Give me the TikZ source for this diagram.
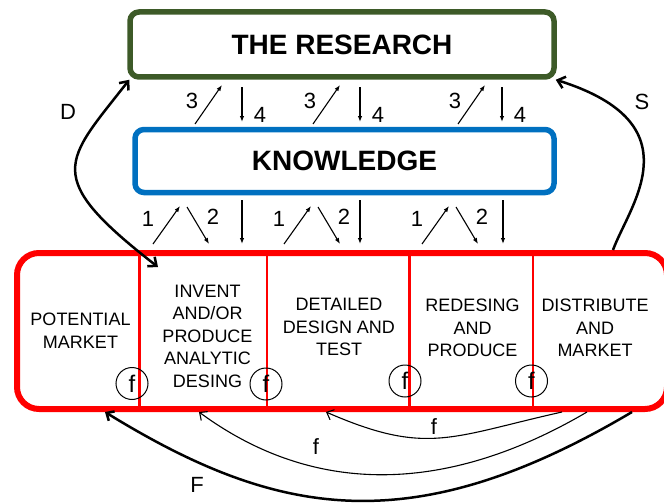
\documentclass[tikz,border=0pt]{standalone}
\usepackage{fontspec}
\setmainfont{Liberation Sans}
\usetikzlibrary{arrows.meta}

\definecolor{researchgreen}{RGB}{61,90,40}
\definecolor{knowblue}{RGB}{0,112,192}

\begin{document}
\begin{tikzpicture}[x=1pt, y=-1pt,
  every node/.style={font=\fontsize{18}{22.5}\selectfont},
  mainbox/.style={draw, line width=5.5pt, rounded corners=9pt, font=\bfseries\fontsize{28}{30}\selectfont},
  cell/.style={align=center, inner sep=0pt},
  num/.style={font=\fontsize{22}{22}\selectfont, inner sep=0pt},
  fmark/.style={draw, circle, line width=1pt, minimum size=32pt, inner sep=0pt, font=\fontsize{24}{24}\selectfont},
  small/.style={line width=1.1pt, -{Latex[length=6pt,width=4.5pt]}},
  bigarrow/.style={line width=2.5pt, -{Straight Barb[length=7pt,width=12pt]}},
  feed/.style={line width=1.1pt, -{Straight Barb[length=6pt,width=11pt]}},
  divider/.style={red, line width=2.5pt}]
  \useasboundingbox (0,0) rectangle (664,503);

  % boxes
  \node[mainbox, draw=researchgreen, minimum width=424pt, minimum height=65pt] (research) at (342,44.5) {THE RESEARCH};
  \node[mainbox, draw=knowblue, minimum width=419pt, minimum height=63pt] (knowledge) at (344.5,161) {KNOWLEDGE};
  \node[draw=red, line width=6pt, rounded corners=22pt, minimum width=650pt, minimum height=156pt] (chain) at (342,331) {};
  \foreach \x in {139.5,267,409.5,533}
    \draw[divider] (\x,0 |- chain.north) -- (\x,0 |- chain.south);

  % stages
  \node[cell] (market) at (80.5,330.5) {POTENTIAL\\MARKET};
  \node[cell] (invent) at (207.5,336) {INVENT\\AND/OR\\PRODUCE\\ANALYTIC\\DESING};
  \node[cell] (design) at (339,327) {DETAILED\\DESIGN AND\\TEST};
  \node[cell] (redesign) at (472.5,328) {REDESING\\AND\\PRODUCE};
  \node[cell] (distribute) at (595,328) {DISTRIBUTE\\AND\\MARKET};

  \node[fmark] (f1) at (132,383.5) {f};
  \node[fmark] (f2) at (266,384) {f};
  \node[fmark] (f3) at (405,381) {f};
  \node[fmark] (f4) at (531.5,381) {f};

  % knowledge <-> stages
  \foreach \x/\d [count=\i] in {153/242,284/360,422/503} {
    \draw[small] (\x,244) -- (\x+27,206);
    \node[num] (one\i) at (\x-5,219) {1};
    \draw[small] (\x+34,207) -- (\x+56,244);
    \node[num] (two\i) at (\x+60,217) {2};
    \draw[small] (\d,200) -- (\d,244);
  }

  % knowledge <-> research
  \foreach \x/\d [count=\i] in {195/242,313/360,458/502} {
    \draw[small] (\x,124) -- (\x+27,85);
    \node[num] (three\i) at (\x-3,101) {3};
    \draw[small] (\d,87) -- (\d,122);
    \node[num] (four\i) at (\d+18,115) {4};
  }

  % D and S
  \coordinate (dend) at (158,267);
  \coordinate (sfoot) at (613,0 |- chain.north);
  \draw[bigarrow, {Straight Barb[length=7pt,width=12pt]}-{Straight Barb[length=7pt,width=12pt]}] (dend) .. controls (41,176) and (65,162) .. ([xshift=2pt]research.south west);
  \node[num] (dlabel) at (68,112) {D};
  \draw[bigarrow] (sfoot) .. controls (629,206) and (697,124) .. ([xshift=-1pt]research.south east);
  \node[num] (slabel) at (642,102) {S};

  % feedback
  \coordinate (fb1) at (562,0 |- chain.south);
  \coordinate (fb2) at (587,0 |- chain.south);
  \coordinate (fb3) at (632,0 |- chain.south);
  \coordinate (to1) at (326,0 |- chain.south);
  \coordinate (to2) at (199,0 |- chain.south);
  \coordinate (to3) at (105,0 |- chain.south);
  \draw[feed] (fb1) .. controls (450,437) and (427,456) .. (to1);
  \node[num] (lab1) at (434,427) {f};
  \draw[feed] (fb2) .. controls (449,493) and (316,498) .. (to2);
  \node[num] (lab2) at (316,447) {f};
  \draw[feed, line width=2.5pt] (fb3) .. controls (411,543) and (276,517) .. (to3);
  \node[num] (lab3) at (197,485) {F};
\end{tikzpicture}
\end{document}
